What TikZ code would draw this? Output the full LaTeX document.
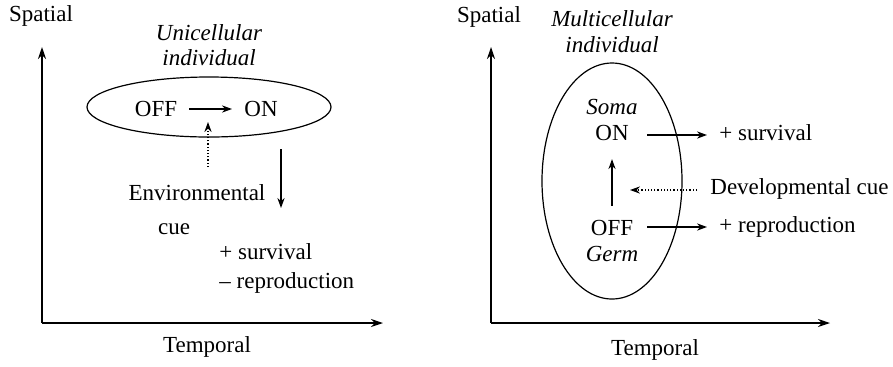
\documentclass[tikz,border=0pt]{standalone}
\usepackage{fontspec}
\setmainfont{Liberation Serif}
\usetikzlibrary{arrows.meta,positioning}
\tikzset{node distance=2.0cm, auto,
  txt/.style={font=\fontsize{11.5}{13}\selectfont, inner sep=1pt},
  itxt/.style={txt, font=\fontsize{11.5}{13}\selectfont\itshape},
  axis/.style={-{Stealth[length=6pt,width=4pt]}, line width=0.6pt},
  arr/.style={-{Stealth[length=5pt,width=3.6pt]}, line width=0.6pt},
  cuearr/.style={arr, densely dotted}
}

\begin{document}
\begin{tikzpicture}[x=0.5pt, y=-0.5pt]
\useasboundingbox (0,0) rectangle (893,366);
% unicellular panel
\coordinate (o1) at (42,323);
\coordinate (y1) at (42,47);
\coordinate (x1) at (383,323);
\draw[axis] (o1) -- (y1);
\draw[axis] (o1) -- (x1);
\node[txt] (sp1) at (41,16) {Spatial};
\node[txt] (tm1) at (207,347) {Temporal};
\node[itxt] (uni) at (209,33) {Unicellular};
\node[itxt] (ind1) at (209,58) {individual};
\draw[line width=0.6pt] (209,107) ellipse (122 and 30);
\node[txt] (off1) at (156,109) {OFF};
\node[txt] (on1) at (261,109) {ON};
\draw[arr, shorten <=5pt, shorten >=5pt] (off1) -- (on1);
\coordinate (env0) at (208,167);
\coordinate (env1) at (208,122);
\draw[cuearr] (env0) -- (env1);
\node[txt] (env) at (197,193) {Environmental};
\node[txt] (cue) at (174,229) {cue};
\coordinate (dn0) at (281,149);
\coordinate (dn1) at (281,208);
\draw[arr] (dn0) -- (dn1);
\node[txt, align=left, anchor=west] (res1) at (217,268) {+ survival\\[1.5pt]– reproduction};

% multicellular panel
\coordinate (o2) at (491,323);
\coordinate (y2) at (491,47);
\coordinate (x2) at (830,323);
\draw[axis] (o2) -- (y2);
\draw[axis] (o2) -- (x2);
\node[txt] (sp2) at (489,17) {Spatial};
\node[txt] (tm2) at (655,350) {Temporal};
\node[itxt] (multi) at (612,19) {Multicellular};
\node[itxt] (ind2) at (612,45) {individual};
\draw[line width=0.6pt] (612,181) ellipse (70 and 118);
\node[itxt] (soma) at (612,107) {Soma};
\node[txt] (on2) at (612,133) {ON};
\node[txt] (off2) at (612,228) {OFF};
\node[itxt] (germ) at (612,254) {Germ};
\draw[arr, shorten <=6pt, shorten >=8pt] (off2) -- (on2);
\node[txt, anchor=west] (surv) at (717,133) {+ survival};
\node[txt, anchor=west] (repr) at (717,227) {+ reproduction};
\node[txt, anchor=west] (dev) at (708,189) {Developmental cue};
\coordinate (s0) at (647,135);
\coordinate (s1) at (707,135);
\coordinate (r0) at (647,227);
\coordinate (r1) at (707,227);
\draw[arr] (s0) -- (s1);
\draw[arr] (r0) -- (r1);
\coordinate (dv0) at (697,190);
\coordinate (dv1) at (630,190);
\draw[cuearr] (dv0) -- (dv1);
\end{tikzpicture}
\end{document}
